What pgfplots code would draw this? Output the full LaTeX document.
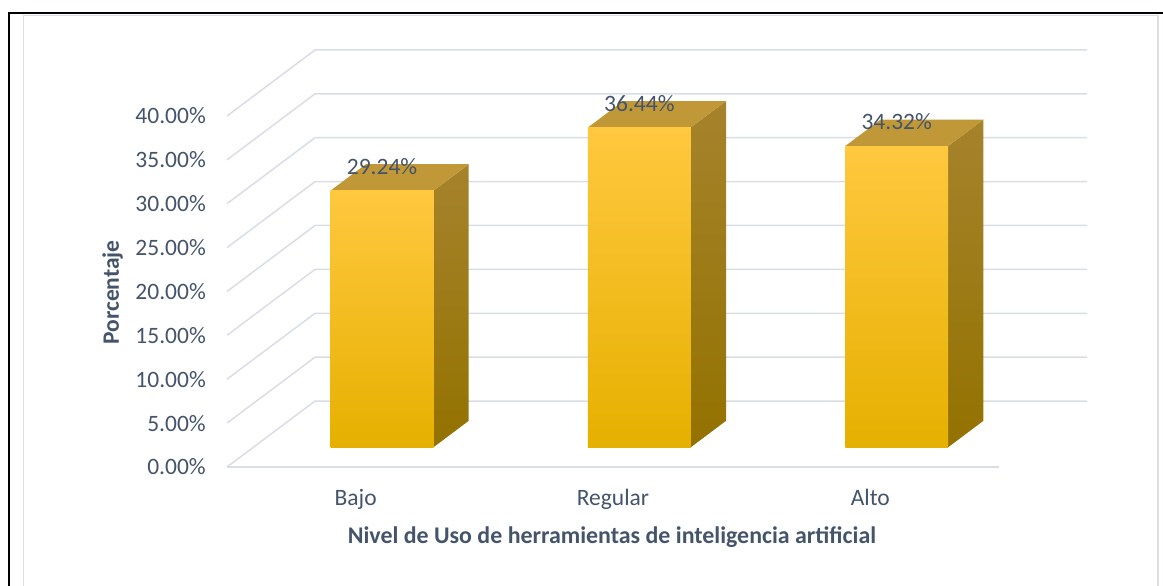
\documentclass[border=0pt]{standalone}
\usepackage{pgfplots}
\pgfplotsset{compat=1.18}
\usepackage{pgfplotstable}
\usepackage{fontspec}
\setmainfont{Carlito}
\definecolor{txt}{HTML}{44546A}
\definecolor{gridc}{HTML}{D9DDE4}
\definecolor{frontTop}{HTML}{FFC83F}
\definecolor{frontMid}{HTML}{FFC000}
\definecolor{frontBot}{HTML}{E6B000}
\definecolor{sideTop}{HTML}{A6832C}
\definecolor{sideBot}{HTML}{937200}
\definecolor{topFace}{HTML}{C19838}
\definecolor{frameGray}{HTML}{D9DEE6}

% data: category index, percentage
\pgfplotstableread{
cat val
0 29.24
1 36.44
2 34.32
}\datatable

% face templates: u = position across the category, d = depth fraction, h = 0 (base) or 1 (top)
\pgfplotstableread{
u d h
0.3 0.3 0
0.7 0.3 0
0.7 0.3 1
0.3 0.3 1
}\frontface
\pgfplotstableread{
u d h
0.7 0.3 0
0.7 0.7 0
0.7 0.7 1
0.7 0.3 1
}\sideface
\pgfplotstableread{
u d h
0.3 0.3 1
0.7 0.3 1
0.7 0.7 1
0.3 0.7 1
}\topface
\pgfplotstableread{
u d
0 0
0 1
3 1
}\wallline

\pgfplotstablegetelem{0}{val}\of\datatable\edef\va{\pgfplotsretval}
\pgfplotstablegetelem{1}{val}\of\datatable\edef\vb{\pgfplotsretval}
\pgfplotstablegetelem{2}{val}\of\datatable\edef\vc{\pgfplotsretval}

\newcommand{\depx}{0.342}
\newcommand{\depy}{7.52}

\newcommand{\threedbar}[2]{%
  \addplot[draw=none, top color=sideTop, bottom color=sideBot]
    table[x expr={#1+\thisrow{u}+\depx*\thisrow{d}}, y expr={\thisrow{h}*#2+\depy*\thisrow{d}}] {\sideface};
  \addplot[draw=none, fill=topFace]
    table[x expr={#1+\thisrow{u}+\depx*\thisrow{d}}, y expr={\thisrow{h}*#2+\depy*\thisrow{d}}] {\topface};
  \addplot[draw=none, top color=frontTop, middle color=frontMid, bottom color=frontBot]
    table[x expr={#1+\thisrow{u}+\depx*\thisrow{d}}, y expr={\thisrow{h}*#2+\depy*\thisrow{d}}] {\frontface};
}

\begin{document}
\begin{tikzpicture}
\useasboundingbox (-227pt,-119pt) rectangle (936pt,467pt);
% outer frame
\draw[black, line width=2pt] (-217.5pt,-119pt) -- (-217.5pt,453.5pt) -- (936pt,453.5pt);
\draw[frameGray, line width=1.5pt] (-203.3pt,-119pt) -- (-203.3pt,451.5pt) -- (931pt,451.5pt) -- (931pt,-119pt);
\begin{axis}[
  at={(0,0)}, anchor=south west,
  scale only axis, width=860pt, height=417pt,
  xmin=0, xmax=3.342, ymin=0, ymax=47.52,
  clip=false,
  axis line style={draw=none},
  major tick length=0pt,
  tick style={draw=none},
  /pgf/number format/assume math mode=true,
  ytick={0,5,...,40},
  yticklabel={\pgfmathprintnumber[fixed,fixed zerofill,precision=2]{\tick}\%},
  yticklabel style={font=\fontsize{23.5}{27}\selectfont, text=txt, anchor=east, inner sep=0pt, xshift=-21pt},
  xtick={0.5,1.5,2.5},
  xticklabels={Bajo,Regular,Alto},
  xticklabel style={font=\fontsize{23.5}{27}\selectfont, text=txt, anchor=base, inner sep=0pt, yshift=-39pt},
]
% back wall grid lines with left-side diagonals
\pgfplotsinvokeforeach{0,5,...,40}{
  \addplot[gridc, line width=1.5pt] table[x expr={\thisrow{u}+\depx*\thisrow{d}}, y expr={#1+\depy*\thisrow{d}}] {\wallline};
}
% floor front edge
\addplot[gridc, line width=1.5pt] coordinates {(0,0) (3,0)};
\threedbar{0}{\va}
\threedbar{1}{\vb}
\threedbar{2}{\vc}
% data labels
\addplot[draw=none, mark=none, point meta=explicit,
  nodes near coords={\pgfmathprintnumber[fixed,fixed zerofill,precision=2]{\pgfplotspointmeta}\%},
  nodes near coords style={anchor=center, inner sep=0pt, font=\fontsize{23.5}{27}\selectfont, text=txt}]
  table[x expr={\thisrow{cat}+0.5+0.3*\depx}, y expr={\thisrow{val}+5.0}, meta=val] {\datatable};
\end{axis}
\node[rotate=90, anchor=base, font=\fontsize{23.5}{28}\selectfont\bfseries, text=txt] at (-108pt,174.5pt) {Porcentaje};
\node[anchor=base, font=\fontsize{23.9}{28}\selectfont\bfseries, text=txt] at (385pt,-77pt) {Nivel de Uso de herramientas de inteligencia artificial};
\end{tikzpicture}
\end{document}
